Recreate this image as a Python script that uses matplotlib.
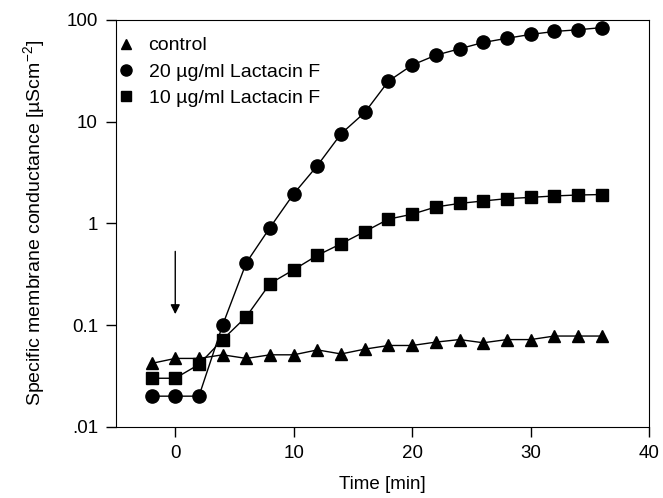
#!/usr/bin/env python3
# -*- coding: utf-8 -*-
"""Membrane conductance vs time for Lactacin F"""

import matplotlib
matplotlib.use('Agg')
import matplotlib.pyplot as plt
from matplotlib.lines import Line2D
from matplotlib.ticker import FixedLocator, FixedFormatter, NullLocator

plt.rcParams['font.family'] = ['Liberation Sans', 'DejaVu Sans']
plt.rcParams['mathtext.fontset'] = 'custom'
plt.rcParams['mathtext.rm'] = 'Liberation Sans'
plt.rcParams['mathtext.it'] = 'Liberation Sans:italic'

# time points [min]
time_min = [-2, 0, 2, 4, 6, 8, 10, 12, 14, 16, 18, 20, 22, 24, 26, 28, 30, 32, 34, 36]

# conductance values [uS cm^-2]
control = [0.042, 0.047, 0.047, 0.051, 0.047, 0.051, 0.051, 0.057, 0.052, 0.058,
           0.063, 0.063, 0.068, 0.072, 0.067, 0.072, 0.072, 0.078, 0.078, 0.078]
lac_20 = [0.020, 0.020, 0.020, 0.10, 0.41, 0.91, 1.95, 3.7, 7.6, 12.3,
          25, 36, 45, 52, 60, 66, 72, 77, 80, 84]
lac_10 = [0.030, 0.030, 0.041, 0.072, 0.121, 0.256, 0.35, 0.485, 0.63, 0.83,
          1.1, 1.23, 1.45, 1.57, 1.66, 1.75, 1.80, 1.86, 1.90, 1.92]

series_labels = ['control', '20 µg/ml Lactacin F', '10 µg/ml Lactacin F']
y_ticks = [0.01, 0.1, 1, 10, 100]
y_tick_labels = ['.01', '0.1', '1', '10', '100']
x_ticks = [0, 10, 20, 30, 40]

fig = plt.figure(figsize=(6.63, 4.98), dpi=100)
ax = fig.add_axes([0.175, 0.143, 0.804, 0.817])

ax.plot(time_min, control, color='black', lw=1, marker='^', ms=8)
ax.plot(time_min, lac_20, color='black', lw=1, marker='o', ms=9.5)
ax.plot(time_min, lac_10, color='black', lw=1, marker='s', ms=8.5)

# 加药时刻箭头
ax.annotate('', xy=(0, 0.128), xytext=(0, 0.53),
            arrowprops=dict(arrowstyle='-|>', color='black', lw=1,
                            mutation_scale=14, shrinkA=0, shrinkB=0))

ax.set_yscale('log')
ax.set_xlim(-5, 40)
ax.set_ylim(0.01, 100)
ax.yaxis.set_major_locator(FixedLocator(y_ticks))
ax.yaxis.set_major_formatter(FixedFormatter(y_tick_labels))
ax.yaxis.set_minor_locator(NullLocator())
ax.set_xticks(x_ticks)
ax.tick_params(direction='out', length=7, width=1, labelsize=13.5, pad=6)

ax.set_xlabel('Time [min]', fontsize=13.5, labelpad=10)
ax.set_ylabel(r'Specific membrane conductance [µScm$^{-2}$]', fontsize=14,
              labelpad=14)

handles = [
    Line2D([], [], color='black', marker='^', ls='none', ms=7),
    Line2D([], [], color='black', marker='o', ms=8, ls='none'),
    Line2D([], [], color='black', marker='s', ms=7, ls='none'),
]
ax.legend(handles, series_labels, loc='upper left', frameon=False, fontsize=14,
          handlelength=0.5, handletextpad=0.9, borderaxespad=0.15,
          labelspacing=0.45, bbox_to_anchor=(-0.01, 0.985))

plt.savefig('out.png', dpi=100)
plt.close()
